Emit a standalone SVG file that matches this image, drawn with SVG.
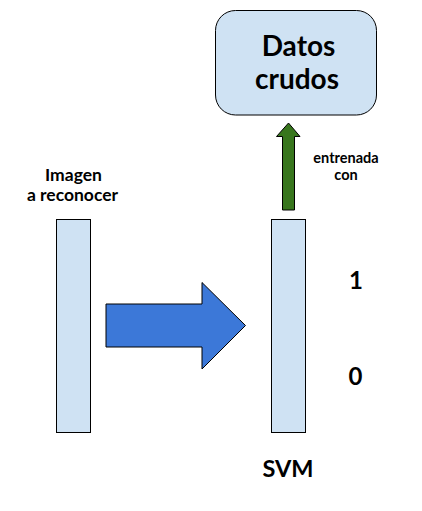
<svg xmlns="http://www.w3.org/2000/svg" width="422" height="511" viewBox="0 0 422 511">
<style>
.box{fill:#cfe2f3;stroke:#000;stroke-width:1}
.t{font-family:Lato,"Liberation Sans",sans-serif;font-weight:bold;fill:#000;text-anchor:middle}
</style>
<rect width="422" height="511" fill="#fff"/>
<g id="datos">
<rect class="box" x="215.5" y="10.5" width="161" height="104.5" rx="20" ry="20"/>
<text class="t" x="298.5" y="56" font-size="28">Datos</text>
<text class="t" x="297" y="89" font-size="28">crudos</text>
</g>
<g id="imagen">
<rect class="box" x="56.5" y="219.5" width="34" height="213"/>
<text class="t" x="73.5" y="180.5" font-size="17.5">Imagen</text>
<text class="t" x="72.5" y="200.5" font-size="17.5">a reconocer</text>
</g>
<g id="svm">
<rect class="box" x="271.5" y="219.5" width="34" height="213"/>
<text class="t" x="288" y="477" font-size="23.5">SVM</text>
<text class="t" x="356" y="289" font-size="24">1</text>
<text class="t" x="355.5" y="385" font-size="24">0</text>
</g>
<g id="connectors">
<polygon points="106,304 202,304 202,282.5 245.5,325.5 202,369 202,347 106,347" fill="#3c78d8" stroke="#000" stroke-width="1"/>
<polygon points="282.5,210 282.5,136.5 276.5,136.5 288.5,123 300,136.5 294.5,136.5 294.5,210" fill="#38761d" stroke="#000" stroke-width="1"/>
<text class="t" x="346" y="163" font-size="14.5">entrenada</text>
<text class="t" x="346" y="179.5" font-size="14.5">con</text>
</g>
</svg>
